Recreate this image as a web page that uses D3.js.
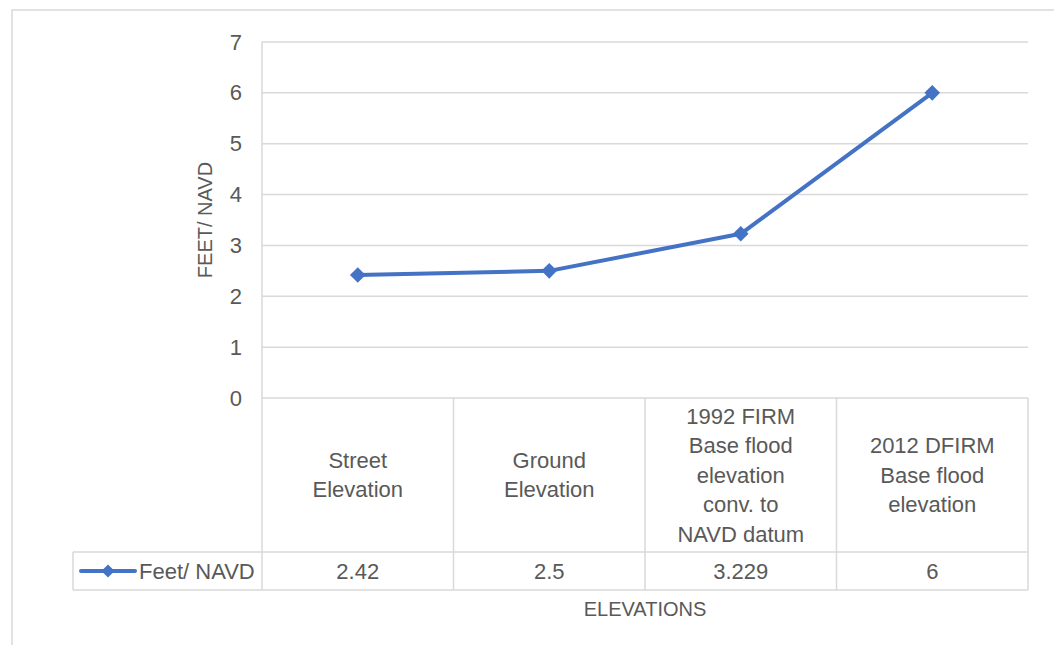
<!DOCTYPE html>
<html>
<head>
<meta charset="utf-8">
<script src="https://cdn.jsdelivr.net/npm/d3@7"></script>
<style>
  html, body { margin: 0; padding: 0; background: #fff; }
  svg { display: block; }
  text { font-family: "Liberation Sans", Arial, sans-serif; fill: #595959; }
</style>
</head>
<body>
<svg id="chart" width="1054" height="645"></svg>
<script>
const categories = [
  ["Street", "Elevation"],
  ["Ground", "Elevation"],
  ["1992 FIRM", "Base flood", "elevation", "conv. to", "NAVD datum"],
  ["2012 DFIRM", "Base flood", "elevation"]
];
const seriesName = "Feet/ NAVD";
const values = [2.42, 2.5, 3.229, 6];
const valueLabels = ["2.42", "2.5", "3.229", "6"];
const yTicks = [0, 1, 2, 3, 4, 5, 6, 7];
const yTitle = "FEET/ NAVD";
const xTitle = "ELEVATIONS";

(function () {
const svg = d3.select("#chart");
const grid = "#d9d9d9";
const blue = "#4472C4";
const fs = 22;
const fsTitle = 20;

const pLeft = 262, pRight = 1028, pTop = 42, pBottom = 398;
const headerBottom = 552, tableBottom = 590, legendLeft = 73;

// outer border
svg.append("rect").attr("x", 12).attr("y", 10).attr("width", 1100).attr("height", 700)
  .attr("fill", "none").attr("stroke", grid).attr("stroke-width", 1.5);

const x = d3.scaleBand().domain(d3.range(categories.length)).range([pLeft, pRight]);
const y = d3.scaleLinear().domain([0, 7]).range([pBottom, pTop]);

// y axis labels
const yAxis = d3.axisLeft(y).tickValues(yTicks).tickFormat(d3.format("d")).tickSize(0).tickPadding(20);
const gy = svg.append("g").attr("transform", `translate(${pLeft},0)`).call(yAxis);
gy.select(".domain").remove();
gy.selectAll("text").attr("font-size", fs).attr("fill", "#595959")
  .style("font-family", '"Liberation Sans", Arial, sans-serif');
// gridlines
svg.append("g").selectAll("line").data(yTicks.filter(d => d > 0)).join("line")
  .attr("x1", pLeft).attr("x2", pRight)
  .attr("y1", d => y(d)).attr("y2", d => y(d))
  .attr("stroke", grid).attr("stroke-width", 1.5);

// table lines
const tl = svg.append("g").attr("stroke", grid).attr("stroke-width", 1.5);
tl.append("line").attr("x1", pLeft).attr("x2", pRight).attr("y1", pBottom).attr("y2", pBottom);
tl.append("line").attr("x1", legendLeft).attr("x2", pRight).attr("y1", headerBottom).attr("y2", headerBottom);
tl.append("line").attr("x1", legendLeft).attr("x2", pRight).attr("y1", tableBottom).attr("y2", tableBottom);
tl.append("line").attr("x1", legendLeft).attr("x2", legendLeft).attr("y1", headerBottom).attr("y2", tableBottom);
tl.append("line").attr("x1", pLeft).attr("x2", pLeft).attr("y1", pTop).attr("y2", tableBottom);
d3.range(1, categories.length + 1).forEach(i => {
  const xx = pLeft + x.step() * i;
  tl.append("line").attr("x1", xx).attr("x2", xx).attr("y1", pBottom).attr("y2", tableBottom);
});

// category labels
const lh = 29.5;
const headerMid = (pBottom + headerBottom) / 2;
categories.forEach((lines, i) => {
  const cx = x(i) + x.bandwidth() / 2;
  const t = svg.append("text").attr("text-anchor", "middle").attr("font-size", fs);
  lines.forEach((ln, j) => {
    t.append("tspan").attr("x", cx)
      .attr("y", headerMid + (j - (lines.length - 1) / 2) * lh)
      .attr("dy", "0.35em").text(ln);
  });
});

// value row
const rowMid = (headerBottom + tableBottom) / 2;
valueLabels.forEach((v, i) => {
  svg.append("text").attr("x", x(i) + x.bandwidth() / 2).attr("y", rowMid)
    .attr("dy", "0.35em").attr("text-anchor", "middle").attr("font-size", fs).text(v);
});

// legend
const lg = svg.append("g");
lg.append("line").attr("x1", 81).attr("x2", 135).attr("y1", rowMid).attr("y2", rowMid)
  .attr("stroke", blue).attr("stroke-width", 4).attr("stroke-linecap", "round");
lg.append("path").attr("d", d3.symbol(d3.symbolDiamond2, 110)())
  .attr("transform", `translate(108,${rowMid})`).attr("fill", blue);
lg.append("text").attr("x", 139).attr("y", rowMid).attr("dy", "0.35em")
  .attr("font-size", fs).text(seriesName);

// line
const px = i => x(i) + x.bandwidth() / 2;
svg.append("path").datum(values)
  .attr("d", d3.line().x((d, i) => px(i)).y(d => y(d)))
  .attr("fill", "none").attr("stroke", blue).attr("stroke-width", 4)
  .attr("stroke-linejoin", "round").attr("stroke-linecap", "round");
svg.append("g").selectAll("path").data(values).join("path")
  .attr("d", d3.symbol(d3.symbolDiamond2, 155)())
  .attr("transform", (d, i) => `translate(${px(i)},${y(d)})`)
  .attr("fill", blue);

// axis titles
svg.append("text").attr("transform", `translate(205,${(pTop + pBottom) / 2}) rotate(-90)`)
  .attr("text-anchor", "middle").attr("dy", "0.35em").attr("font-size", fsTitle).text(yTitle);
svg.append("text").attr("x", (pLeft + pRight) / 2).attr("y", 609).attr("dy", "0.35em")
  .attr("text-anchor", "middle").attr("font-size", fsTitle).text(xTitle);
})();
</script>
</body>
</html>
